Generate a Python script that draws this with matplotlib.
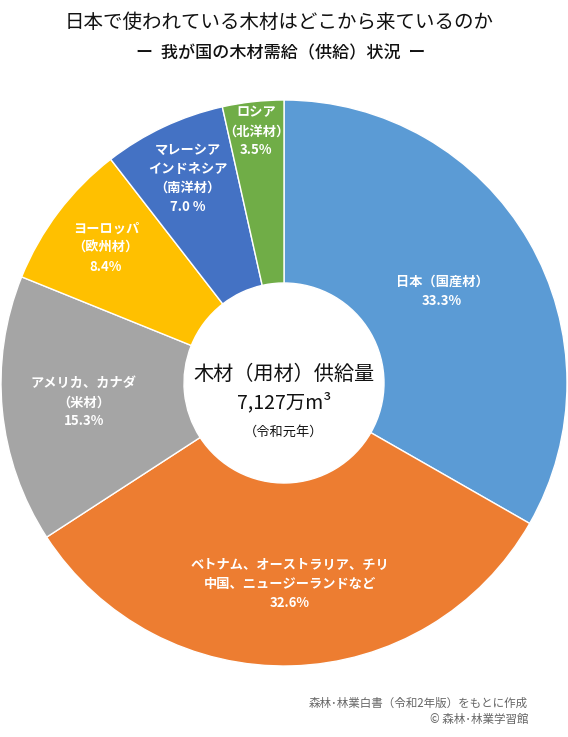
import matplotlib
matplotlib.use("Agg")
import matplotlib.pyplot as plt
import numpy as np

plt.rcParams['font.family'] = ['Noto Sans CJK JP', 'DejaVu Sans']

# ---- data ----
categories = ["日本（国産材）",
              "ベトナム、オーストラリア、チリ\n中国、ニュージーランドなど",
              "アメリカ、カナダ\n（米材）",
              "ヨーロッパ\n（欧州材）",
              "マレーシア\nインドネシア\n（南洋材）",
              "ロシア\n（北洋材）"]
values = [33.3, 32.6, 15.3, 8.4, 7.0, 3.5]
pct_labels = ["33.3%", "32.6%", "15.3%", "8.4%", "7.0 %", "3.5%"]

title = "日本で使われている木材はどこから来ているのか"
subtitle = "ー  我が国の木材需給（供給）状況  ー"
center_lines = ["木材（用材）供給量", "7,127万m³", "（令和元年）"]
source_lines = ["森林･林業白書（令和2年版）をもとに作成", "© 森林･林業学習館"]

# ---- style ----
colors = ["#5B9BD5", "#ED7D31", "#A5A5A5", "#FFC000", "#4472C4", "#70AD47"]
label_r = [0.645, 0.71, 0.71, 0.79, 0.80, 0.895]

W, H = 568, 737
fig = plt.figure(figsize=(W / 100, H / 100), dpi=100)
fig.patch.set_facecolor("white")

cx, cy, R = 284, 383, 283
ax = fig.add_axes([(cx - R) / W, (H - cy - R) / H, 2 * R / W, 2 * R / H])

hole = 100 / 283
wedges, _ = ax.pie(values, colors=colors, startangle=90, counterclock=False,
                   radius=1.0,
                   wedgeprops=dict(width=1 - hole, edgecolor="white", linewidth=1.0))
ax.set_xlim(-1, 1)
ax.set_ylim(-1, 1)
ax.axis("off")

for w, cat, pct, r in zip(wedges, categories, pct_labels, label_r):
    ang = np.deg2rad((w.theta1 + w.theta2) / 2)
    x, y = r * np.cos(ang), r * np.sin(ang)
    ax.text(x, y, cat + "\n" + pct, ha="center", va="center", color="white",
            fontsize=9.5, fontweight="bold", linespacing=1.45)

# center text
ax.text(0, 0.03, center_lines[0], ha="center", va="center", fontsize=14.5, color="#111111")
ax.text(0, -0.07, center_lines[1], ha="center", va="center", fontsize=14, color="#111111")
ax.text(0, -0.175, center_lines[2], ha="center", va="center", fontsize=9.5, color="#111111")

# titles
fig.text(279 / W, 1 - 22 / H, title, ha="center", va="center", fontsize=14, color="#111111")
fig.text(281 / W, 1 - 53 / H, subtitle, ha="center", va="center", fontsize=12.3,
         fontweight="medium", color="#111111")

# source
fig.text(528 / W, 1 - 703 / H, source_lines[0], ha="right", va="center", fontsize=8.3, color="#666666")
fig.text(528 / W, 1 - 720 / H, source_lines[1], ha="right", va="center", fontsize=8.3, color="#666666")

fig.savefig("out.png", dpi=100, facecolor="white")
